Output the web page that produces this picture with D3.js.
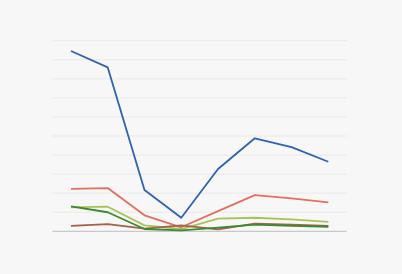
<!DOCTYPE html>
<html lang="en">
<head>
<meta charset="utf-8">
<script src="https://cdn.jsdelivr.net/npm/d3@7"></script>
<style>
  body { margin: 0; background: #f7f7f7; }
</style>
</head>
<body>
<script>
var categories = ["1", "2", "3", "4", "5", "6", "7", "8"];
var blue = [94.6, 86.0, 21.7, 7.1, 32.7, 48.8, 44.2, 36.5];
var red = [22.3, 22.7, 8.4, 2.1, 10.6, 19.0, 17.3, 15.2];
var lightGreen = [12.6, 12.9, 3.1, 1.2, 6.6, 7.1, 6.3, 4.9];
var darkGreen = [13.1, 10.0, 1.2, 0.5, 1.9, 3.5, 2.8, 2.4];
var brown = [2.8, 3.8, 1.4, 3.1, 1.0, 4.0, 3.5, 2.8];
var yTicks = [0, 10, 20, 30, 40, 50, 60, 70, 80, 90, 100];

var w = 402, h = 274;
var margin = {top: 40.7, right: 55.3, bottom: 42.7, left: 52.6};

var series = [
  {values: red, color: "#e0705f"},
  {values: lightGreen, color: "#a8c35a"},
  {values: brown, color: "#a3604a"},
  {values: darkGreen, color: "#3a8a2f"},
  {values: blue, color: "#2f63ae"}
];

var x = d3.scaleBand().domain(categories).range([margin.left, w - margin.right]);
var y = d3.scaleLinear().domain([0, 100]).range([h - margin.bottom, margin.top]);

var svg = d3.select("body").append("svg")
  .attr("width", w)
  .attr("height", h)
  .style("display", "block");

svg.append("rect").attr("width", w).attr("height", h).attr("fill", "#f7f7f7");

// gridlines
svg.append("g")
  .selectAll("line")
  .data(yTicks.slice(1))
  .enter()
  .append("line")
  .attr("x1", margin.left)
  .attr("x2", w - margin.right)
  .attr("y1", function(d) { return y(d); })
  .attr("y2", function(d) { return y(d); })
  .attr("stroke", "#e9e9e9")
  .attr("stroke-width", 1);

// baseline
svg.append("line")
  .attr("x1", margin.left)
  .attr("x2", w - margin.right)
  .attr("y1", y(0))
  .attr("y2", y(0))
  .attr("stroke", "#bdbdbd")
  .attr("stroke-width", 1);

var line = d3.line()
  .x(function(d, i) { return x(categories[i]) + x.bandwidth() / 2; })
  .y(function(d) { return y(d); });

svg.selectAll("path.series")
  .data(series)
  .enter()
  .append("path")
  .attr("class", "series")
  .attr("d", function(s) { return line(s.values); })
  .attr("fill", "none")
  .attr("stroke", function(s) { return s.color; })
  .attr("stroke-width", 1.8)
  .attr("stroke-linejoin", "round");
</script>
</body>
</html>
